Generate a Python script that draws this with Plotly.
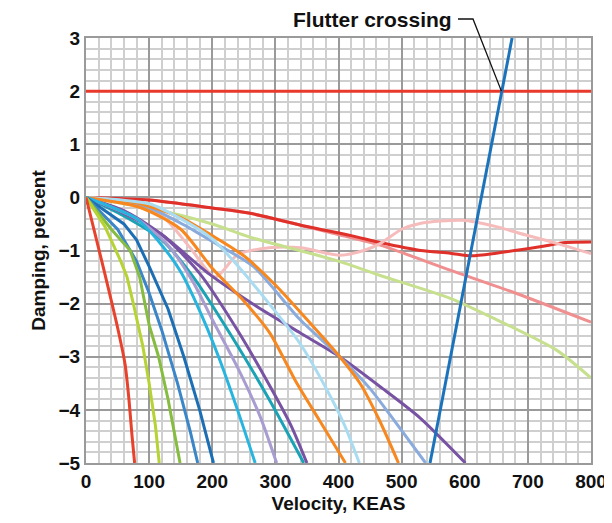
import plotly.graph_objects as go

# ---- data (velocity KEAS, damping percent) ----
red_x = [0, 25, 50, 62, 68, 73, 77]
red_y = [0, -1.2, -2.45, -3.15, -3.8, -4.5, -5]

ygreen_x = [0, 30, 55, 65, 75, 90, 100, 110, 116]
ygreen_y = [0, -0.55, -1.2, -1.5, -2.0, -2.8, -3.5, -4.3, -5]

green_x = [0, 40, 70, 85, 100, 115, 130, 149]
green_y = [0, -0.6, -1.0, -1.5, -2.4, -3.0, -3.8, -5]

blue_x = [0, 50, 80, 100, 120, 145, 165, 177]
blue_y = [0, -0.6, -1.2, -1.8, -2.5, -3.5, -4.4, -5]

dblue_x = [0, 60, 80, 100, 130, 155, 180, 202]
dblue_y = [0, -0.5, -0.8, -1.3, -2.1, -3.0, -4.0, -5]

cyan_x = [0, 80, 120, 150, 175, 210, 240, 268]
cyan_y = [0, -0.4, -0.9, -1.4, -2.0, -3.0, -4.0, -5]

lav_x = [0, 80, 130, 170, 200, 240, 275, 302]
lav_y = [0, -0.4, -0.9, -1.6, -2.3, -3.2, -4.1, -5]

teal_x = [0, 60, 120, 170, 230, 290, 345]
teal_y = [0, -0.35, -0.8, -1.5, -2.6, -3.8, -5]

purp1_x = [0, 60, 120, 180, 240, 295, 325, 350]
purp1_y = [0, -0.3, -0.7, -1.43, -2.5, -3.63, -4.3, -5]

orng1_x = [0, 86, 150, 201, 250, 291, 334, 370, 411]
orng1_y = [0, -0.19, -0.6, -1.35, -1.95, -2.55, -3.5, -4.2, -5]

lblue_x = [0, 100, 150, 200, 233, 290, 339, 382, 410, 433]
lblue_y = [0, -0.12, -0.4, -0.78, -1.19, -2.0, -2.75, -3.63, -4.3, -5]

orng2_x = [0, 80, 150, 200, 250, 300, 350, 402, 434, 465, 495]
orng2_y = [0, -0.1, -0.38, -0.72, -1.1, -1.65, -2.3, -3.0, -3.5, -4.2, -5]

bgray_x = [0, 100, 160, 210, 265, 339, 402, 450, 482, 538]
bgray_y = [0, -0.2, -0.55, -0.9, -1.3, -2.3, -3.0, -3.6, -4.1, -5]

purp2_x = [0, 60, 120, 196, 270, 339, 402, 470, 529, 601]
purp2_y = [0, -0.25, -0.7, -1.45, -2.05, -2.55, -3.0, -3.6, -4.15, -5]

lgreen_x = [0, 100, 200, 260, 400, 466, 577, 650, 746, 800]
lgreen_y = [0, -0.2, -0.5, -0.75, -1.2, -1.47, -1.9, -2.3, -2.88, -3.4]

salmon_x = [0, 100, 200, 260, 400, 466, 577, 680, 800]
salmon_y = [0, -0.05, -0.2, -0.3, -0.7, -0.9, -1.37, -1.8, -2.35]

dred_x = [0, 100, 200, 260, 350, 420, 466, 530, 577, 610, 650, 719, 760, 800]
dred_y = [0, -0.05, -0.2, -0.3, -0.55, -0.72, -0.85, -1.0, -1.05, -1.1, -1.05, -0.93, -0.85, -0.84]

lpink_x = [0, 60, 122, 165, 205, 240, 290, 340, 402, 440, 466, 500, 529, 597, 650, 688, 750, 800]
lpink_y = [0, -0.08, -0.37, -0.95, -1.5, -1.08, -0.95, -0.95, -1.09, -1.0, -0.87, -0.6, -0.49, -0.43, -0.55, -0.68, -0.88, -1.06]

flutter_x = [545, 675]
flutter_y = [-5, 3]

hline_x = [0, 800]
hline_y = [2, 2]

x_ticks = [0, 100, 200, 300, 400, 500, 600, 700, 800]
y_ticks = [-5, -4, -3, -2, -1, 0, 1, 2, 3]

series = [
    (salmon_x, salmon_y, "#f08f8f", "spline"),
    (dred_x, dred_y, "#e0302a", "spline"),
    (lpink_x, lpink_y, "#f6bcbc", "spline"),
    (lgreen_x, lgreen_y, "#c6e08d", "spline"),
    (purp2_x, purp2_y, "#7853a3", "spline"),
    (bgray_x, bgray_y, "#8aabdc", "spline"),
    (orng2_x, orng2_y, "#f7871f", "spline"),
    (lblue_x, lblue_y, "#a9dcf1", "spline"),
    (orng1_x, orng1_y, "#f7871f", "spline"),
    (teal_x, teal_y, "#1aa3b6", "spline"),
    (purp1_x, purp1_y, "#7853a3", "spline"),
    (lav_x, lav_y, "#a99cd1", "spline"),
    (cyan_x, cyan_y, "#27b4de", "spline"),
    (dblue_x, dblue_y, "#1c6fb5", "linear"),
    (blue_x, blue_y, "#3a86c8", "linear"),
    (green_x, green_y, "#86bc40", "linear"),
    (ygreen_x, ygreen_y, "#b5d334", "linear"),
    (red_x, red_y, "#e8412c", "spline"),
    (hline_x, hline_y, "#e8392b", "linear"),
    (flutter_x, flutter_y, "#1b73bb", "linear"),
]

fig = go.Figure()
for xs, ys, col, shp in series:
    fig.add_trace(go.Scatter(x=xs, y=ys, mode="lines",
                             line=dict(color=col, width=3, shape=shp, smoothing=0.7) if shp == "spline"
                             else dict(color=col, width=3),
                             hoverinfo="skip", showlegend=False))

fnt = dict(family="Liberation Sans, Arial, sans-serif", size=19, color="#111111", weight="bold")

fig.update_xaxes(range=[0, 800], tickvals=x_ticks, ticks="", showgrid=True,
                 gridcolor="#9a9a9a", gridwidth=2, automargin=False,
                 minor=dict(dtick=20, showgrid=True, gridcolor="#cfcfcf", gridwidth=1.5),
                 showline=True, linecolor="#9a9a9a", linewidth=2, mirror=True,
                 zeroline=False, tickfont=fnt,
                 title=dict(text="Velocity, KEAS", font=fnt, standoff=6))
fig.update_yaxes(range=[-5, 3], tickvals=y_ticks, ticks="", showgrid=True,
                 gridcolor="#9a9a9a", gridwidth=2, automargin=False,
                 minor=dict(dtick=0.2, showgrid=True, gridcolor="#cfcfcf", gridwidth=1.5),
                 showline=True, linecolor="#9a9a9a", linewidth=2, mirror=True,
                 zeroline=False, tickfont=fnt,
                 title=dict(text="Damping, percent", font=fnt, standoff=8))

# leader line in paper coordinates
fig.add_shape(type="path", xref="paper", yref="paper",
              path="M 0.7366 1.0447 L 0.7663 1.0447 L 0.8226 0.875",
              line=dict(color="#111111", width=1.3))
fig.add_annotation(text="Flutter crossing", xref="paper", yref="paper",
                   x=0.7287, y=1.0447, xanchor="right", yanchor="middle",
                   showarrow=False, font=dict(family="Liberation Sans, Arial, sans-serif",
                                              size=21, color="#111111", weight="bold"))

# page body has an 8px margin, so the figure is sized/offset to put the plot in place
fig.update_layout(width=604, height=515, margin=dict(l=78, r=21, t=30, b=60),
                  plot_bgcolor="white", paper_bgcolor="white")
fig.write_html("out.html")
